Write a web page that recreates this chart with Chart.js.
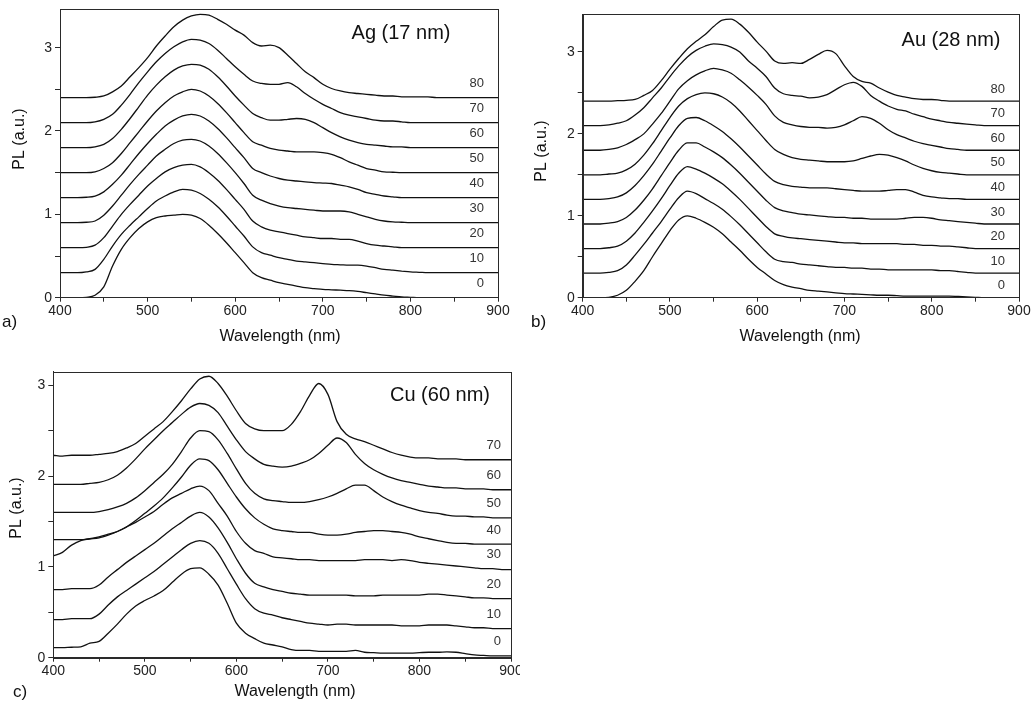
<!DOCTYPE html>
<html>
<head>
<meta charset="utf-8">
<script src="https://cdn.jsdelivr.net/npm/chart.js@4.4.1/dist/chart.umd.min.js"></script>
<style>
  body { margin: 0; background: #fff; width: 1036px; height: 718px; position: relative; overflow: hidden; }
  canvas { position: absolute; }
</style>
</head>
<body>
<canvas id="ca" width="520" height="350" style="left:0;top:0"></canvas>
<canvas id="cb" width="516" height="350" style="left:520px;top:0"></canvas>
<canvas id="cc" width="520" height="358" style="left:0;top:360px"></canvas>
<script>
// PL-spektra, forskjøvet 0.3 per kurve. Bølgelengde-rutenett (nm)
const wl = [400,410,420,430,440,450,460,470,480,490,500,510,520,530,540,550,560,570,580,590,
  600,610,620,630,640,650,660,670,680,690,700,710,720,730,740,750,760,770,780,790,
  800,810,820,830,840,850,860,870,880,890,900];

// ---- a) Ag (17 nm) ----
const ag0 = [0,0,0,0.005,0.03,0.13,0.38,0.58,0.72,0.83, 0.91,0.96,0.98,0.99,1.0,0.99,0.95,0.87,0.77,0.66,
  0.54,0.42,0.30,0.24,0.21,0.18,0.16,0.14,0.12,0.11, 0.10,0.095,0.09,0.085,0.075,0.06,0.045,0.03,0.02,0.01,
  0.005,0,0,0,0,0,0,0,0,0, 0];
const ag10 = [0.3,0.3,0.3,0.31,0.34,0.46,0.62,0.76,0.87,0.97, 1.07,1.16,1.22,1.27,1.3,1.29,1.25,1.18,1.09,0.98,
  0.86,0.74,0.61,0.54,0.51,0.48,0.46,0.44,0.43,0.42, 0.41,0.40,0.395,0.39,0.39,0.38,0.36,0.34,0.33,0.32,
  0.31,0.305,0.3,0.3,0.3,0.3,0.3,0.3,0.3,0.3, 0.3];
const ag20 = [0.6,0.6,0.6,0.605,0.63,0.72,0.86,1.0,1.12,1.23, 1.34,1.43,1.51,1.56,1.59,1.6,1.57,1.5,1.41,1.3,
  1.18,1.06,0.92,0.85,0.81,0.79,0.77,0.75,0.73,0.72, 0.71,0.71,0.70,0.70,0.68,0.65,0.63,0.62,0.61,0.6,
  0.6,0.6,0.6,0.6,0.6,0.6,0.6,0.6,0.6,0.6, 0.6];
const ag30 = [0.9,0.9,0.9,0.905,0.92,0.99,1.1,1.23,1.36,1.48, 1.59,1.7,1.78,1.85,1.89,1.9,1.88,1.82,1.73,1.62,
  1.5,1.37,1.23,1.17,1.13,1.1,1.08,1.07,1.06,1.05, 1.04,1.04,1.04,1.03,1.0,0.97,0.94,0.92,0.91,0.905,
  0.9,0.9,0.9,0.9,0.9,0.9,0.9,0.9,0.9,0.9, 0.9];
const ag40 = [1.2,1.2,1.2,1.205,1.22,1.27,1.36,1.47,1.6,1.73, 1.85,1.96,2.06,2.13,2.18,2.2,2.18,2.12,2.03,1.92,
  1.8,1.68,1.55,1.5,1.46,1.43,1.41,1.4,1.39,1.38, 1.375,1.37,1.35,1.33,1.3,1.26,1.24,1.22,1.21,1.2,
  1.2,1.2,1.2,1.2,1.2,1.2,1.2,1.2,1.2,1.2, 1.2];
const ag50 = [1.5,1.5,1.5,1.5,1.51,1.55,1.62,1.73,1.86,1.99, 2.12,2.24,2.34,2.42,2.47,2.5,2.48,2.42,2.33,2.22,
  2.1,1.98,1.87,1.83,1.79,1.77,1.76,1.75,1.75,1.75, 1.74,1.72,1.68,1.63,1.59,1.55,1.53,1.51,1.505,1.5,
  1.5,1.5,1.5,1.5,1.5,1.5,1.5,1.5,1.5,1.5, 1.5];
const ag60 = [1.8,1.8,1.8,1.8,1.81,1.84,1.91,2.02,2.15,2.29, 2.43,2.55,2.65,2.73,2.78,2.8,2.79,2.74,2.65,2.54,
  2.42,2.31,2.21,2.16,2.13,2.13,2.14,2.15,2.14,2.10, 2.04,1.98,1.93,1.89,1.86,1.84,1.83,1.82,1.81,1.81,
  1.8,1.8,1.8,1.8,1.8,1.8,1.8,1.8,1.8,1.8, 1.8];
const ag70 = [2.1,2.1,2.1,2.1,2.11,2.14,2.2,2.31,2.44,2.58, 2.71,2.83,2.93,3.01,3.07,3.1,3.09,3.05,2.97,2.87,
  2.77,2.68,2.6,2.57,2.56,2.56,2.58,2.53,2.45,2.38, 2.32,2.27,2.22,2.19,2.17,2.15,2.13,2.12,2.12,2.11,
  2.1,2.1,2.1,2.1,2.1,2.1,2.1,2.1,2.1,2.1, 2.1];
const ag80 = [2.4,2.4,2.4,2.4,2.405,2.42,2.47,2.54,2.65,2.76, 2.88,3.02,3.14,3.25,3.33,3.38,3.4,3.39,3.34,3.28,
  3.21,3.15,3.06,3.02,3.03,3.0,2.91,2.81,2.71,2.64, 2.56,2.51,2.48,2.46,2.45,2.44,2.43,2.42,2.42,2.41,
  2.41,2.41,2.41,2.4,2.4,2.4,2.4,2.4,2.4,2.4, 2.4];

// ---- b) Au (28 nm) ----
const au0 = [0,0,0,0.005,0.03,0.09,0.2,0.33,0.5,0.66, 0.82,0.95,1.0,0.97,0.92,0.86,0.78,0.68,0.58,0.47,
  0.37,0.29,0.21,0.16,0.13,0.11,0.09,0.08,0.07,0.06, 0.05,0.045,0.04,0.035,0.03,0.03,0.025,0.02,0.02,0.02,
  0.02,0.02,0.02,0.015,0.01,0.005,0,0,0,0, 0];
const au10 = [0.3,0.3,0.3,0.31,0.33,0.40,0.52,0.65,0.79,0.93, 1.08,1.22,1.3,1.27,1.21,1.15,1.08,0.99,0.89,0.78,
  0.67,0.56,0.47,0.44,0.43,0.41,0.40,0.39,0.38,0.37, 0.37,0.36,0.36,0.35,0.35,0.34,0.34,0.34,0.34,0.34,
  0.34,0.33,0.33,0.32,0.31,0.3,0.3,0.3,0.3,0.3, 0.3];
const au20 = [0.6,0.6,0.6,0.61,0.63,0.69,0.79,0.92,1.06,1.21, 1.37,1.52,1.6,1.57,1.52,1.46,1.39,1.30,1.20,1.09,
  0.98,0.87,0.78,0.75,0.73,0.72,0.71,0.70,0.69,0.68, 0.67,0.67,0.66,0.66,0.66,0.66,0.66,0.65,0.65,0.64,
  0.64,0.63,0.63,0.62,0.61,0.6,0.6,0.6,0.6,0.6, 0.6];
const au30 = [0.9,0.9,0.9,0.91,0.93,0.98,1.07,1.19,1.33,1.49, 1.65,1.80,1.89,1.89,1.84,1.78,1.71,1.62,1.52,1.41,
  1.30,1.19,1.10,1.06,1.04,1.02,1.01,1.00,0.99,0.98, 0.98,0.97,0.97,0.96,0.96,0.96,0.96,0.97,0.98,0.98,
  0.97,0.95,0.94,0.93,0.92,0.91,0.9,0.9,0.9,0.9, 0.9];
const au40 = [1.2,1.2,1.2,1.21,1.23,1.28,1.37,1.49,1.63,1.79, 1.95,2.10,2.19,2.2,2.16,2.10,2.03,1.94,1.84,1.73,
  1.62,1.51,1.42,1.38,1.36,1.35,1.34,1.34,1.34,1.33, 1.32,1.31,1.30,1.30,1.30,1.31,1.32,1.32,1.29,1.25,
  1.23,1.22,1.21,1.21,1.2,1.2,1.2,1.2,1.2,1.2, 1.2];
const au50 = [1.5,1.5,1.5,1.51,1.52,1.56,1.63,1.74,1.88,2.04, 2.20,2.34,2.43,2.48,2.5,2.49,2.45,2.38,2.28,2.16,
  2.04,1.92,1.81,1.75,1.71,1.69,1.68,1.67,1.66,1.66, 1.66,1.67,1.70,1.73,1.75,1.74,1.71,1.67,1.62,1.58,
  1.55,1.53,1.52,1.51,1.5,1.5,1.5,1.5,1.5,1.5, 1.5];
const au60 = [1.8,1.8,1.8,1.81,1.83,1.87,1.93,2.0,2.12,2.25, 2.40,2.55,2.65,2.72,2.77,2.8,2.78,2.74,2.66,2.57,
  2.47,2.36,2.22,2.14,2.11,2.09,2.08,2.08,2.07,2.08, 2.11,2.16,2.21,2.19,2.13,2.05,1.99,1.95,1.91,1.88,
  1.86,1.84,1.82,1.81,1.8,1.8,1.8,1.8,1.8,1.8, 1.8];
const au70 = [2.1,2.1,2.1,2.11,2.13,2.16,2.23,2.32,2.44,2.56, 2.70,2.83,2.94,3.02,3.07,3.1,3.09,3.06,3.0,2.89,
  2.80,2.70,2.56,2.49,2.47,2.46,2.44,2.45,2.48,2.54, 2.60,2.63,2.58,2.47,2.40,2.34,2.30,2.28,2.24,2.21,
  2.18,2.16,2.14,2.13,2.12,2.11,2.1,2.1,2.1,2.1, 2.1];
const au80 = [2.4,2.4,2.4,2.4,2.405,2.41,2.42,2.47,2.53,2.65, 2.79,2.92,3.04,3.13,3.21,3.31,3.39,3.40,3.34,3.24,
  3.12,3.01,2.89,2.86,2.87,2.86,2.91,2.97,3.02,2.98, 2.83,2.70,2.64,2.62,2.56,2.51,2.47,2.45,2.43,2.42,
  2.42,2.41,2.4,2.4,2.4,2.4,2.4,2.4,2.4,2.4, 2.4];

// ---- c) Cu (60 nm) ----
const cu0 = [0.11,0.11,0.115,0.12,0.16,0.18,0.27,0.37,0.48,0.57, 0.63,0.68,0.74,0.83,0.92,0.98,0.99,0.92,0.80,0.60,
  0.38,0.27,0.21,0.16,0.14,0.12,0.09,0.08,0.08,0.07, 0.07,0.07,0.07,0.08,0.06,0.055,0.05,0.05,0.05,0.05,
  0.055,0.06,0.06,0.065,0.06,0.045,0.03,0.025,0.02,0.02, 0.02];
const cu10 = [0.42,0.42,0.43,0.43,0.43,0.48,0.58,0.67,0.74,0.81, 0.88,0.95,1.03,1.11,1.19,1.26,1.29,1.26,1.15,0.98,
  0.81,0.65,0.54,0.49,0.47,0.44,0.42,0.40,0.38,0.37, 0.36,0.37,0.37,0.36,0.36,0.36,0.36,0.36,0.35,0.35,
  0.35,0.36,0.36,0.36,0.35,0.34,0.33,0.33,0.32,0.32, 0.32];
const cu20 = [0.75,0.75,0.76,0.76,0.76,0.80,0.89,0.97,1.05,1.12, 1.19,1.26,1.34,1.42,1.49,1.56,1.60,1.55,1.43,1.27,
  1.09,0.93,0.82,0.78,0.75,0.73,0.71,0.70,0.69,0.69, 0.69,0.69,0.69,0.68,0.68,0.68,0.69,0.69,0.69,0.69,
  0.69,0.70,0.70,0.69,0.68,0.67,0.66,0.66,0.65,0.65, 0.65];
const cu30 = [1.12,1.16,1.24,1.29,1.31,1.33,1.36,1.39,1.44,1.49, 1.55,1.61,1.69,1.76,1.81,1.86,1.89,1.84,1.70,1.56,
  1.39,1.26,1.18,1.15,1.11,1.10,1.09,1.08,1.08,1.07, 1.07,1.07,1.07,1.07,1.08,1.08,1.08,1.07,1.08,1.07,
  1.05,1.04,1.03,1.02,1.01,1.0,0.99,0.98,0.98,0.97, 0.97];
const cu40 = [1.30,1.30,1.30,1.30,1.31,1.32,1.35,1.39,1.44,1.51, 1.59,1.67,1.76,1.87,1.99,2.12,2.19,2.17,2.07,1.92,
  1.77,1.64,1.54,1.47,1.42,1.40,1.39,1.38,1.38,1.36, 1.35,1.35,1.36,1.38,1.39,1.40,1.40,1.39,1.38,1.36,
  1.33,1.31,1.29,1.27,1.26,1.26,1.25,1.25,1.25,1.25, 1.25];
const cu50 = [1.60,1.60,1.60,1.60,1.60,1.61,1.63,1.66,1.70,1.76, 1.84,1.93,2.02,2.13,2.27,2.42,2.50,2.49,2.40,2.25,
  2.08,1.92,1.81,1.75,1.73,1.72,1.71,1.71,1.72,1.74, 1.77,1.81,1.86,1.90,1.90,1.84,1.77,1.72,1.68,1.65,
  1.62,1.60,1.59,1.57,1.56,1.56,1.55,1.55,1.54,1.54, 1.54];
const cu60 = [1.91,1.91,1.91,1.91,1.92,1.93,1.96,2.01,2.09,2.19, 2.30,2.40,2.50,2.59,2.68,2.76,2.80,2.78,2.70,2.55,
  2.40,2.27,2.19,2.13,2.11,2.10,2.11,2.14,2.18,2.25, 2.34,2.42,2.37,2.24,2.14,2.07,2.02,1.98,1.95,1.93,
  1.91,1.89,1.88,1.87,1.87,1.86,1.86,1.86,1.85,1.85, 1.85];
const cu70 = [2.23,2.22,2.23,2.23,2.23,2.24,2.25,2.27,2.31,2.36, 2.44,2.52,2.60,2.71,2.83,2.96,3.07,3.10,3.02,2.88,
  2.72,2.58,2.52,2.50,2.50,2.50,2.57,2.71,2.89,3.02, 2.90,2.60,2.46,2.41,2.38,2.34,2.30,2.26,2.23,2.21,
  2.20,2.20,2.19,2.19,2.19,2.18,2.18,2.18,2.18,2.18, 2.18];

const FONT = '"Liberation Sans", Arial, Helvetica, sans-serif';
Chart.defaults.font.family = FONT;

// ramme, kurvetall, tittel og aksetekster
const decor = {
  id: 'decor',
  afterDraw(chart, args, o) {
    const { ctx, chartArea: a, scales: { x, y } } = chart;
    ctx.save();
    ctx.strokeStyle = '#2a2a2a'; ctx.lineWidth = 1;
    ctx.strokeRect(Math.round(a.left) + 0.5, Math.round(a.top) + 0.5, Math.round(a.right - a.left), Math.round(a.bottom - a.top));
    const k = wl.indexOf(880);
    ctx.fillStyle = '#333'; ctx.font = '13px ' + FONT;
    ctx.textAlign = 'right'; ctx.textBaseline = 'middle';
    chart.data.datasets.forEach((ds) => {
      ctx.fillText(ds.label, x.getPixelForValue(o.tagAt), y.getPixelForValue(ds.data[k].y) - o.tagLift);
    });
    ctx.fillStyle = '#111'; ctx.textAlign = 'center';
    ctx.font = '20px ' + FONT;
    ctx.fillText(o.title, o.titleX, o.titleY);
    ctx.font = '16px ' + FONT;
    ctx.fillText('Wavelength (nm)', o.xtX, o.xtY);
    ctx.textAlign = 'left';
    ctx.font = '17px ' + FONT;
    ctx.fillText(o.letter, o.letX, o.letY);
    ctx.translate(o.ytX, o.ytY); ctx.rotate(-Math.PI / 2);
    ctx.textAlign = 'center'; ctx.font = '16px ' + FONT;
    ctx.fillText('PL (a.u.)', 0, 0);
    ctx.restore();
  }
};

function panel(id, sets, yMax, pad, yW, xH, deco) {
  return new Chart(document.getElementById(id), {
    type: 'line',
    data: {
      datasets: sets.map(([label, vals]) => ({
        label, data: wl.map((x, i) => ({ x, y: vals[i] })),
        borderColor: '#111', borderWidth: 1.3, pointRadius: 0, fill: false,
        cubicInterpolationMode: 'monotone',
      })),
    },
    options: {
      responsive: false, animation: false, events: [],
      layout: { autoPadding: false, padding: pad },
      plugins: { legend: { display: false }, tooltip: { enabled: false }, decor: deco },
      scales: {
        x: {
          type: 'linear', min: 400, max: 900,
          afterFit: (s) => { s.height = xH; s.paddingLeft = 0; s.paddingRight = 0; },
          ticks: { stepSize: 50, autoSkip: false, maxRotation: 0, padding: 1, color: '#222', font: { size: 14 },
            callback: (v) => (v % 100 === 0 ? v : '') },
          grid: { drawOnChartArea: false, tickLength: 4, color: '#2a2a2a' },
          border: { color: '#2a2a2a' },
        },
        y: {
          min: 0, max: yMax,
          afterFit: (s) => { s.width = yW; s.paddingTop = 0; s.paddingBottom = 0; },
          ticks: { stepSize: 0.5, includeBounds: false, padding: 3, color: '#222', font: { size: 14 },
            callback: (v) => (Number.isInteger(v) ? v : '') },
          grid: { drawOnChartArea: false, tickLength: 5, color: '#2a2a2a' },
          border: { color: '#2a2a2a' },
        },
      },
    },
    plugins: [decor],
  });
}

panel('ca',
  [['0', ag0], ['10', ag10], ['20', ag20], ['30', ag30], ['40', ag40], ['50', ag50], ['60', ag60], ['70', ag70], ['80', ag80]],
  3.46, { left: 0, top: 9.3, right: 22, bottom: 0 }, 60, 350 - 297.7,
  { title: 'Ag (17 nm)', titleX: 401, titleY: 33, letter: 'a)', letX: 2, letY: 322,
    xtX: 280, xtY: 337, ytX: 20, ytY: 139, tagAt: 884, tagLift: 14 });

panel('cb',
  [['0', au0], ['10', au10], ['20', au20], ['30', au30], ['40', au40], ['50', au50], ['60', au60], ['70', au70], ['80', au80]],
  3.46, { left: 0, top: 14.3, right: 17, bottom: 0 }, 62.7, 350 - 297.7,
  { title: 'Au (28 nm)', titleX: 431, titleY: 40, letter: 'b)', letX: 11, letY: 322,
    xtX: 280, xtY: 337, ytX: 22, ytY: 151, tagAt: 884, tagLift: 12 });

panel('cc',
  [['0', cu0], ['10', cu10], ['20', cu20], ['30', cu30], ['40', cu40], ['50', cu50], ['60', cu60], ['70', cu70]],
  3.15, { left: 0, top: 11.7, right: 9, bottom: 0 }, 53.3, 358 - 297.7,
  { title: 'Cu (60 nm)', titleX: 440, titleY: 35, letter: 'c)', letX: 13, letY: 332,
    xtX: 295, xtY: 332, ytX: 17, ytY: 148, tagAt: 889, tagLift: 14 });
</script>
</body>
</html>
